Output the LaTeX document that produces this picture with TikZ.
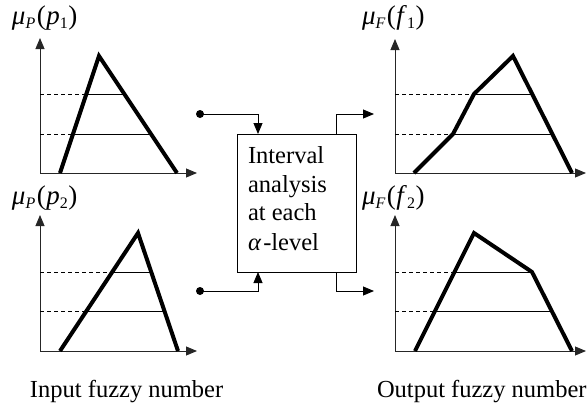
\documentclass[tikz,border=0pt]{standalone}
\usepackage{fontspec}
\setmainfont{Liberation Serif}
\usetikzlibrary{arrows.meta}
\newcommand{\mylbl}[3]{\textit{μ}\raisebox{-0.4ex}{\fontsize{16}{16}\selectfont\textit{#1}}\kern1.5pt(\kern0.5pt\textit{#2}\raisebox{-0.4ex}{\fontsize{16}{16}\selectfont #3}\kern0.5pt)}
\begin{document}
\begin{tikzpicture}[x=1pt,y=-1pt,
  every node/.style={font=\fontsize{24.5}{29}\selectfont, inner sep=0pt, outer sep=0pt},
  axis/.style={line width=0.9pt, draw=black!85, -{Triangle[length=11pt,width=9pt]}},
  memb/.style={line width=4pt, line join=miter, line cap=butt},
  alev/.style={line width=0.8pt},
  dsh/.style={line width=0.8pt, dash pattern=on 4pt off 3pt},
  conn/.style={line width=0.9pt, -{Triangle[length=11pt,width=9pt]}},
  dotn/.style={circle, fill=black, inner sep=0pt, minimum size=8pt},
  lbl/.style={anchor=base west, font=\fontsize{27}{29}\selectfont}]
\useasboundingbox (0,0) rectangle (587,408);

% ---------- Panel 1: input p1 ----------
\coordinate (o1) at (40,173);
\coordinate (y1) at (40,38);
\coordinate (x1) at (197,173);
\draw[axis] (o1) -- (y1);
\draw[axis] (o1) -- (x1);
\coordinate (a1) at (60,173);
\coordinate (p1) at (99,56);
\coordinate (c1) at (177,173);
\draw[dsh] (40,94) -- (86.3,94);
\draw[dsh] (40,134) -- (73,134);
\draw[alev] (86.3,94) -- (124.3,94);
\draw[alev] (73,134) -- (151,134);
\draw[memb] (a1) -- (p1) -- (c1);
\node[lbl] (l1) at (12,24) {\mylbl{P}{p}{1}};

% ---------- Panel 2: input p2 ----------
\coordinate (o2) at (40,351);
\coordinate (y2) at (40,215);
\coordinate (x2) at (197,351);
\draw[axis] (o2) -- (y2);
\draw[axis] (o2) -- (x2);
\coordinate (a2) at (60,351);
\coordinate (p2) at (138,233);
\coordinate (c2) at (178,351);
\draw[dsh] (40,272) -- (112.2,272);
\draw[dsh] (40,311) -- (86.4,311);
\draw[alev] (112.2,272) -- (151.2,272);
\draw[alev] (86.4,311) -- (164.4,311);
\draw[memb] (a2) -- (p2) -- (c2);
\node[lbl] (l2) at (12,204) {\mylbl{P}{p}{2}};

% ---------- Panel 3: output f1 ----------
\coordinate (o3) at (395,173);
\coordinate (y3) at (395,39);
\coordinate (x3) at (586,173);
\draw[axis] (o3) -- (y3);
\draw[axis] (o3) -- (x3);
\coordinate (a3) at (414,173);
\coordinate (b3) at (453,134);
\coordinate (c3) at (474,94);
\coordinate (p3) at (513,56);
\coordinate (d3) at (572,173);
\draw[dsh] (395,94) -- (c3);
\draw[dsh] (395,134) -- (b3);
\draw[alev] (c3) -- (532.2,94);
\draw[alev] (b3) -- (552.3,134);
\draw[memb] (a3) -- (b3) -- (c3) -- (p3) -- (d3);
\node[lbl] (l3) at (362,24) {\mylbl{F}{f}{1}};

% ---------- Panel 4: output f2 ----------
\coordinate (o4) at (395,351);
\coordinate (y4) at (395,215);
\coordinate (x4) at (586,351);
\draw[axis] (o4) -- (y4);
\draw[axis] (o4) -- (x4);
\coordinate (a4) at (415,351);
\coordinate (p4) at (474,233);
\coordinate (b4) at (532,272);
\coordinate (d4) at (572,351);
\draw[dsh] (395,272) -- (454.5,272);
\draw[dsh] (395,311) -- (435,311);
\draw[alev] (454.5,272) -- (b4);
\draw[alev] (435,311) -- (551.7,311);
\draw[memb] (a4) -- (p4) -- (b4) -- (d4);
\node[lbl] (l4) at (362,204) {\mylbl{F}{f}{2}};

% ---------- Central box ----------
\node[draw, line width=0.9pt, minimum width=119pt, minimum height=138pt] (box) at (296.5,203) {};
\node[anchor=base west] (t1) at (248,163) {Interval};
\node[anchor=base west] (t2) at (248,192) {analysis};
\node[anchor=base west] (t3) at (248,220) {at each};
\node[anchor=base west] (t4) at (248,250) {\textit{α}\kern2pt-level};

% inputs
\node[dotn] (in1) at (200,114) {};
\node[dotn] (in2) at (200,291) {};
\coordinate (bi1) at (258,134);
\coordinate (bi2) at (258,272);
\draw[conn] (in1.center) -| (bi1);
\draw[conn] (in2.center) -| (bi2);

% outputs
\coordinate (bo1) at (336,134);
\coordinate (bo2) at (336,272);
\coordinate (e1) at (374,114);
\coordinate (e2) at (374,291);
\draw[conn] (bo1) |- (e1);
\draw[conn] (bo2) |- (e2);

% captions
\node[anchor=base west] (cap1) at (30,397) {Input fuzzy number};
\node[anchor=base west] (cap2) at (377,397) {Output fuzzy number};
\end{tikzpicture}
\end{document}
